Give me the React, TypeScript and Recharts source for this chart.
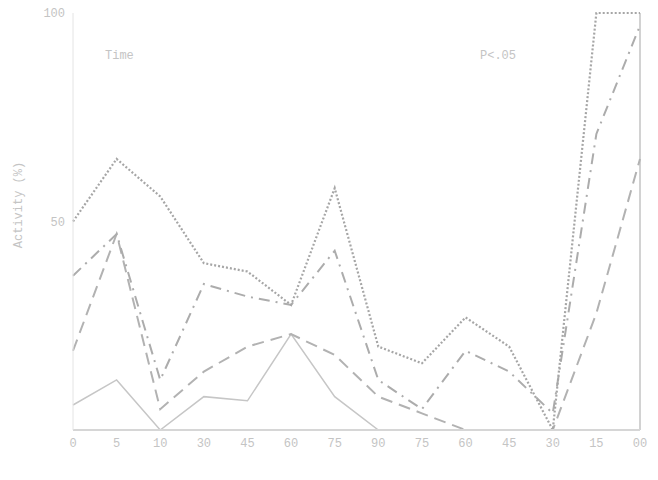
import React from 'react';
import { LineChart, Line, XAxis, YAxis, ReferenceLine } from 'recharts';

// time points (minutes) along the bottom
const TIMES = ['0', '5', '10', '30', '45', '60', '75', '90', '75', '60', '45', '30', '15', '00'];

// activity (%) per condition
const DOTTED = [50, 65, 56, 40, 38, 30, 58, 20, 16, 27, 20, 0, 100, 100];
const DASH_DOT = [37, 47, 12, 35, 32, 30, 43, 12, 5, 19, 14, 4, 71, 97];
const LONG_DASH = [19, 47, 5, 14, 20, 23, 18, 8, 4, 0, 0, 0, 28, 65];
const SOLID = [6, 12, 0, 8, 7, 23, 8, 0, 0, 0, 0, 0, 0, 0];

const Y_TICKS = [50, 100];

const FONT = '"Liberation Mono", "DejaVu Sans Mono", monospace';
const TEXT = '#c4c4c4';

const data = TIMES.map((t, i) => ({
  time: t,
  idx: i,
  dotted: DOTTED[i],
  dashDot: DASH_DOT[i],
  longDash: LONG_DASH[i],
  solid: SOLID[i],
}));

export default function App() {
  return (
    <div style={{ position: 'absolute', left: 0, top: 0, width: 658, height: 480, background: '#fff' }}>
      <LineChart width={658} height={480} data={data} margin={{ top: 13, right: 18, bottom: 20, left: 13 }}>
        <XAxis
          dataKey="idx"
          type="category"
          tickFormatter={(v: number) => TIMES[v]}
          axisLine={{ stroke: '#d6d6d6', strokeWidth: 2 }}
          tickLine={false}
          height={30}
          interval={0}
          tick={{ fill: TEXT, fontSize: 12, fontFamily: FONT }}
        />
        <YAxis
          domain={[0, 100]}
          ticks={Y_TICKS}
          width={60}
          axisLine={{ stroke: '#e4e4e4' }}
          tickLine={false}
          tick={{ fill: TEXT, fontSize: 12, fontFamily: FONT }}
        />
        <ReferenceLine x={TIMES.length - 1} stroke="#d2d2d2" strokeWidth={2} />
        <Line dataKey="solid" stroke="#c6c6c6" strokeWidth={1.5} dot={false} isAnimationActive={false} />
        <Line dataKey="longDash" stroke="#b2b2b2" strokeWidth={2} strokeDasharray="12 7" dot={false} isAnimationActive={false} />
        <Line dataKey="dashDot" stroke="#acacac" strokeWidth={2} strokeDasharray="11 6 2 6" dot={false} isAnimationActive={false} />
        <Line dataKey="dotted" stroke="#a6a6a6" strokeWidth={2.2} strokeDasharray="2 2" dot={false} isAnimationActive={false} />
        <text x={105} y={59} fill={TEXT} fontSize={12} fontFamily={FONT}>Time</text>
        <text x={480} y={59} fill={TEXT} fontSize={12} fontFamily={FONT}>P&lt;.05</text>
        <text
          x={22}
          y={205}
          transform="rotate(-90 22 205)"
          textAnchor="middle"
          fill={TEXT}
          fontSize={12}
          fontFamily={FONT}
        >
          Activity (%)
        </text>
      </LineChart>
    </div>
  );
}
